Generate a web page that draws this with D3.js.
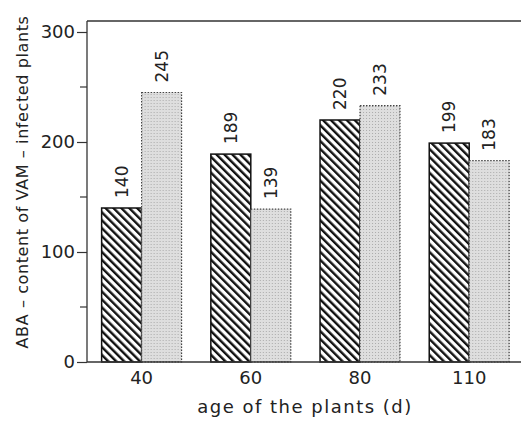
<!DOCTYPE html>
<html>
<head>
<meta charset="utf-8">
<script src="https://cdn.jsdelivr.net/npm/d3@7"></script>
<style>
  body { margin: 0; background: #fff; }
  text { font-family: "DejaVu Sans", sans-serif; fill: #222; }
</style>
</head>
<body>
<script>
let ages = ['40', '60', '80', '110'];
let series = ['hatched', 'stippled'];
let hatchedValues = [140, 189, 220, 199];
let stippledValues = [245, 139, 233, 183];
let yTicks = [0, 100, 200, 300];
let yMinorTicks = [50, 150, 250];

let width = 521;
let height = 423;
let margin = { top: 21, right: 0, bottom: 61, left: 87 };

let svg = d3.select('body').append('svg')
    .attr('width', width)
    .attr('height', height);

let defs = svg.append('defs');

// diagonal hatch, lines running top-left to bottom-right
let hatch = defs.append('pattern')
    .attr('id', 'hatch')
    .attr('patternUnits', 'userSpaceOnUse')
    .attr('width', 5.6)
    .attr('height', 8)
    .attr('patternTransform', 'rotate(-45)');
hatch.append('rect').attr('width', 5.6).attr('height', 8).attr('fill', '#fff');
hatch.append('rect').attr('x', 0).attr('width', 2.4).attr('height', 8).attr('fill', '#111');

// fine grey stipple
let stip = defs.append('pattern')
    .attr('id', 'stipple')
    .attr('patternUnits', 'userSpaceOnUse')
    .attr('width', 3)
    .attr('height', 3);
stip.append('rect').attr('width', 3).attr('height', 3).attr('fill', '#dedede');
stip.append('rect').attr('x', 1).attr('y', 1).attr('width', 1).attr('height', 1).attr('fill', '#ababab');

let y = d3.scaleLinear().domain([0, 300]).range([362, 32]);

let x0 = d3.scaleBand()
    .domain(ages)
    .range([margin.left, margin.left + 4 * 109.2])
    .paddingInner(0.268)
    .paddingOuter(0.134);

let x1 = d3.scaleBand()
    .domain(series)
    .range([0, x0.bandwidth()]);

let rows = ages.map(function(a, i) {
  return { age: a, values: [
    { key: 'hatched', value: hatchedValues[i] },
    { key: 'stippled', value: stippledValues[i] }
  ]};
});

// top frame line
svg.append('line')
    .attr('x1', margin.left).attr('x2', width)
    .attr('y1', y(310)).attr('y2', y(310))
    .attr('stroke', '#333').attr('stroke-width', 1.3);

let groups = svg.selectAll('g.age')
    .data(rows)
  .enter().append('g')
    .attr('class', 'age')
    .attr('transform', function(d) { return 'translate(' + x0(d.age) + ',0)'; });

groups.selectAll('rect')
    .data(function(d) { return d.values; })
  .enter().append('rect')
    .attr('x', function(d) { return x1(d.key); })
    .attr('y', function(d) { return y(d.value); })
    .attr('width', x1.bandwidth())
    .attr('height', function(d) { return y(0) - y(d.value); })
    .attr('fill', function(d) { return d.key === 'hatched' ? 'url(#hatch)' : 'url(#stipple)'; })
    .attr('stroke', function(d) { return d.key === 'hatched' ? '#111' : '#444'; })
    .attr('stroke-width', function(d) { return d.key === 'hatched' ? 1.5 : 1.2; })
    .attr('stroke-dasharray', function(d) { return d.key === 'hatched' ? null : '1.5,1.5'; });

// value labels, rotated
groups.selectAll('text.val')
    .data(function(d) { return d.values; })
  .enter().append('text')
    .attr('class', 'val')
    .attr('transform', function(d) {
      return 'translate(' + (x1(d.key) + x1.bandwidth() / 2 + 6) + ',' + (y(d.value) - 10) + ') rotate(-90)';
    })
    .attr('font-size', 17)
    .attr('text-anchor', 'start')
    .text(function(d) { return d.value; });

// y axis
let yAxis = d3.axisLeft(y).tickValues(yTicks).tickSize(10).tickPadding(2);
let gy = svg.append('g')
    .attr('transform', 'translate(' + margin.left + ',0)')
    .call(yAxis);
gy.select('.domain').remove();
gy.selectAll('text').attr('font-size', 18).attr('fill', '#222');
gy.selectAll('line').attr('stroke', '#333').attr('stroke-width', 1.2);

svg.append('g')
    .attr('transform', 'translate(' + margin.left + ',0)')
  .selectAll('line')
    .data(yMinorTicks)
  .enter().append('line')
    .attr('x1', -7).attr('x2', 0)
    .attr('y1', function(d) { return y(d); })
    .attr('y2', function(d) { return y(d); })
    .attr('stroke', '#333').attr('stroke-width', 1.2);

svg.append('line')
    .attr('x1', margin.left).attr('x2', margin.left)
    .attr('y1', y(310)).attr('y2', y(0))
    .attr('stroke', '#333').attr('stroke-width', 1.3);

// x axis, labels sit under the boundary between the two bars
let xAxis = d3.axisBottom(x0).tickSize(0).tickPadding(9);
let gx = svg.append('g')
    .attr('transform', 'translate(' + (x1.bandwidth() - x0.bandwidth() / 2) + ',' + y(0) + ')')
    .call(xAxis);
gx.select('.domain').remove();
gx.selectAll('text').attr('font-size', 18).attr('fill', '#222');

svg.append('line')
    .attr('x1', margin.left).attr('x2', width)
    .attr('y1', y(0)).attr('y2', y(0))
    .attr('stroke', '#333').attr('stroke-width', 1.3);

// axis titles
svg.append('text')
    .attr('x', 305)
    .attr('y', 413)
    .attr('text-anchor', 'middle')
    .attr('font-size', 18)
    .attr('letter-spacing', 1.5)
    .text('age of the plants (d)');

svg.append('text')
    .attr('transform', 'translate(28,182) rotate(-90)')
    .attr('text-anchor', 'middle')
    .attr('font-size', 16)
    .attr('letter-spacing', 0.6)
    .text('ABA \u2013 content of VAM \u2013 infected plants');
</script>
</body>
</html>
